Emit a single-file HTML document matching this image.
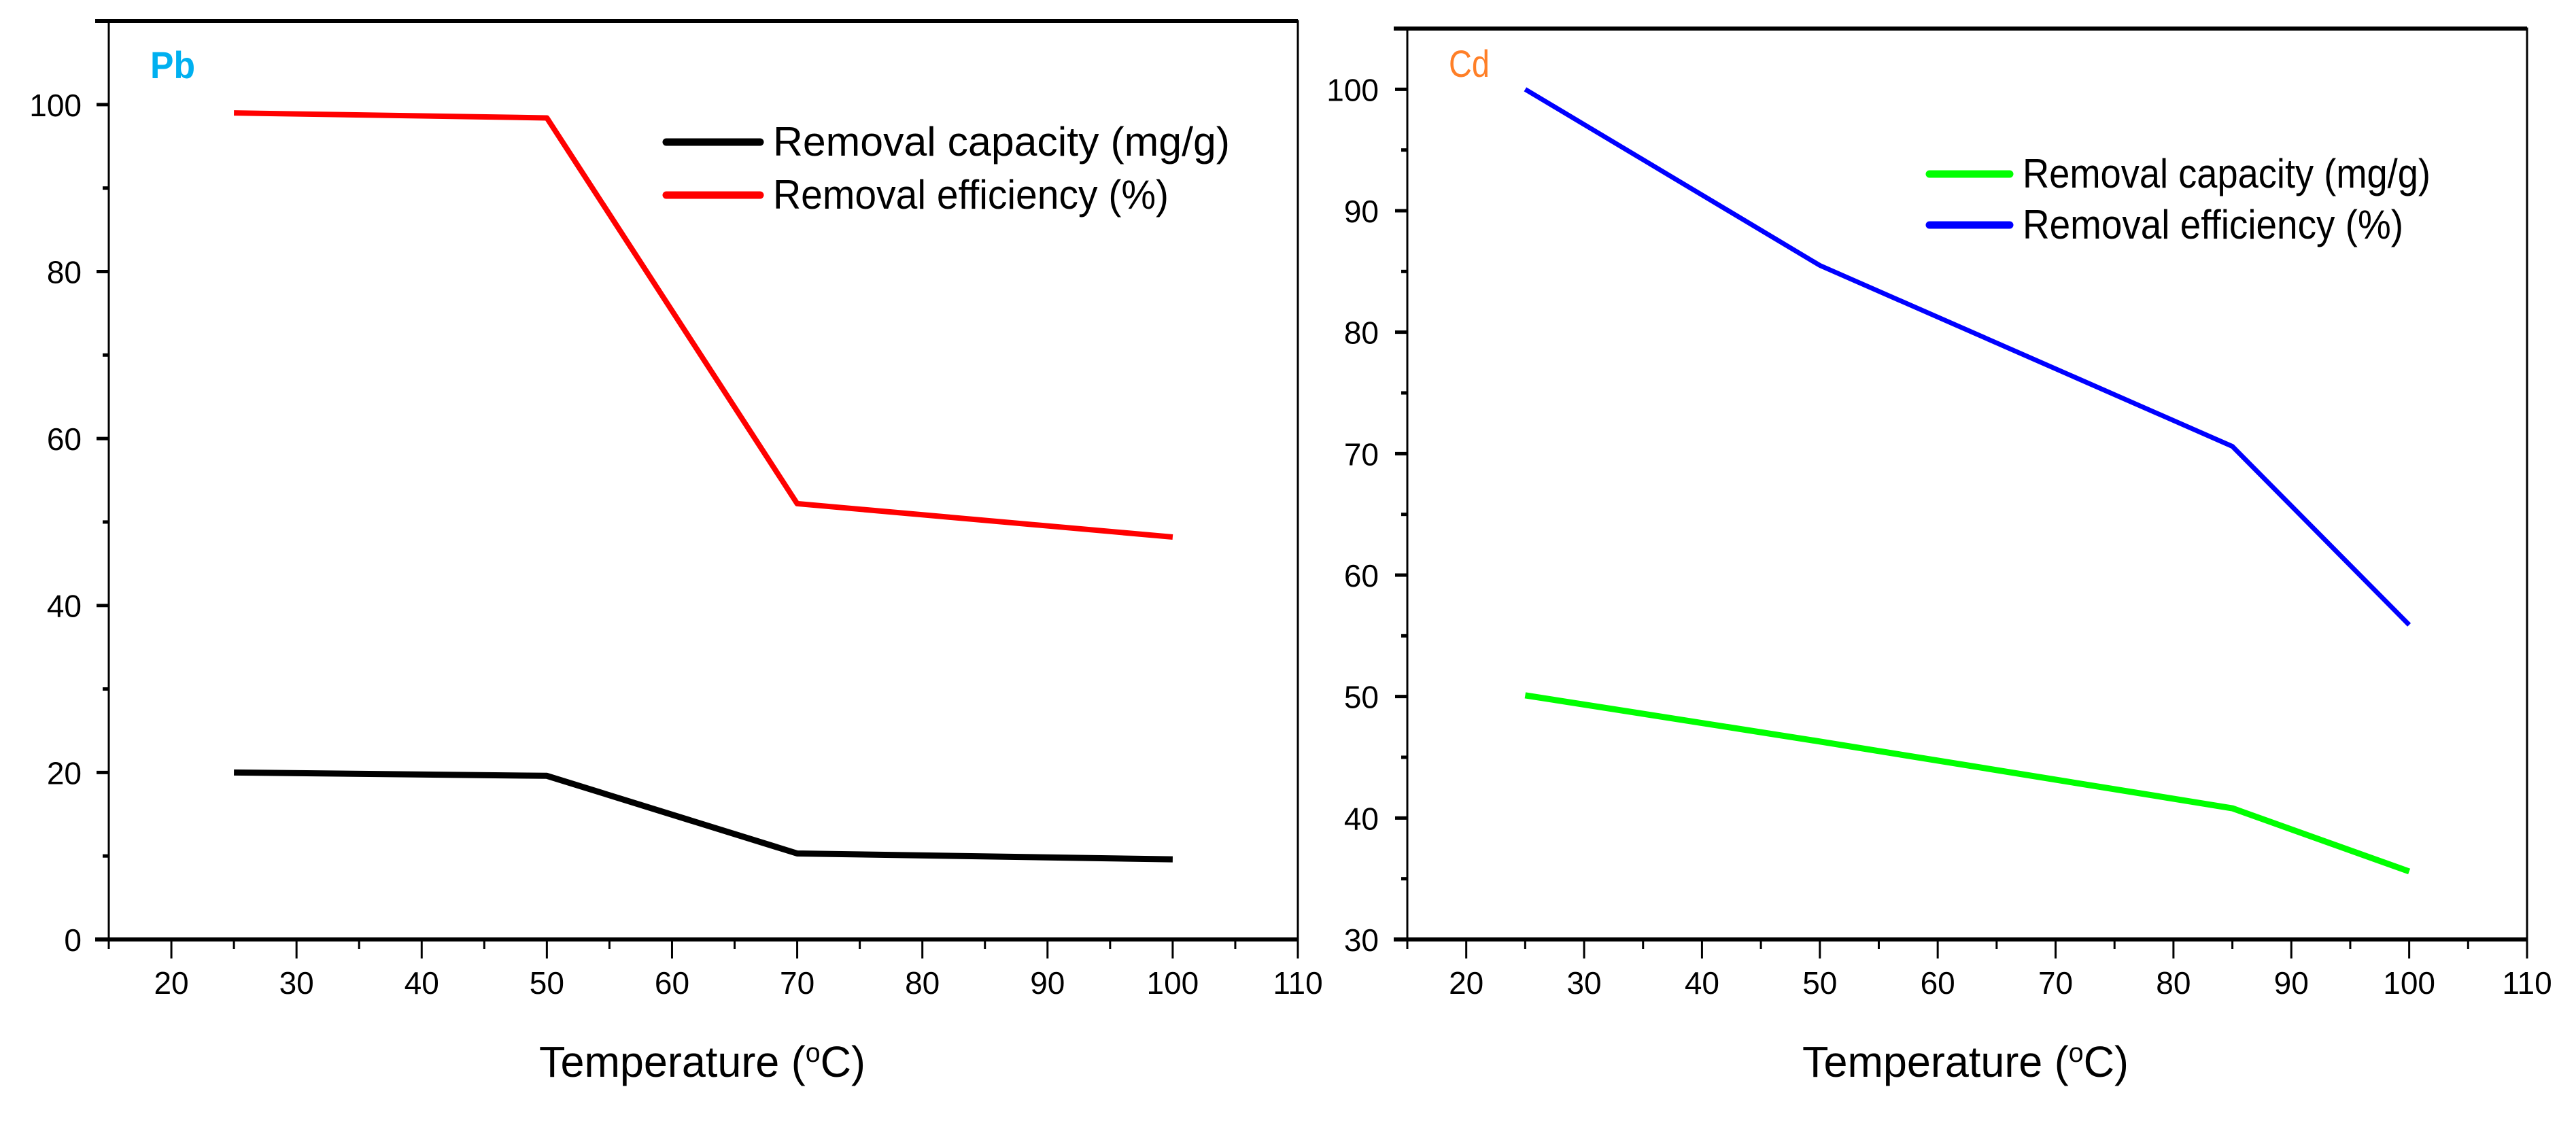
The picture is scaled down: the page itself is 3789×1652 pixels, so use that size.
<!DOCTYPE html>
<html><head><meta charset="utf-8"><style>
html,body{margin:0;padding:0;background:#fff;}
svg{display:block;font-family:"Liberation Sans",Arial,sans-serif;}
</style></head><body>
<svg id="fig" width="3789" height="1652" viewBox="0 0 3789 1652" xmlns="http://www.w3.org/2000/svg">
<g id="left"></g>
<g id="right"></g>
</svg>
<script>
const temps = [25, 50, 70, 100];
const pbEfficiency = [99.0, 98.4, 52.2, 48.2];
const pbCapacity = [20.0, 19.6, 10.3, 9.6];
const cdTemps = [25, 50, 85, 100];
const cdEfficiency = [100.0, 85.5, 70.6, 55.9];
const cdCapacity = [50.1, 46.3, 40.8, 35.6];
const xTicks = [20, 30, 40, 50, 60, 70, 80, 90, 100, 110];
const pbYTicks = [0, 20, 40, 60, 80, 100];
const cdYTicks = [30, 40, 50, 60, 70, 80, 90, 100];
const pbLegend = ["Removal capacity (mg/g)", "Removal efficiency (%)"];
const cdLegend = ["Removal capacity (mg/g)", "Removal efficiency (%)"];

const NS = "http://www.w3.org/2000/svg";
function mk(parent, tag, attrs, text) {
  const e = document.createElementNS(NS, tag);
  for (const k in attrs) e.setAttribute(k, attrs[k]);
  if (text !== undefined) e.textContent = text;
  parent.appendChild(e);
  return e;
}

function drawChart(g, cfg) {
  const sx = v => cfg.x0 + (v - 15) / 95 * (cfg.x1 - cfg.x0);
  const sy = v => cfg.yb - (v - cfg.ymin) / (cfg.ymax - cfg.ymin) * (cfg.yb - cfg.yt);
  // frame
  const fr = mk(g, "rect", {x: cfg.x0, y: cfg.yt, width: cfg.x1 - cfg.x0, height: cfg.yb - cfg.yt, fill: "none", stroke: "#000", "stroke-width": 3});
  
  
  const top = mk(g, "line", {x1: cfg.x0 - 20, y1: cfg.yt, x2: cfg.x1, y2: cfg.yt, stroke: "#000", "stroke-width": 6});
  
  
  const xa = mk(g, "line", {x1: cfg.x0 - 20, y1: cfg.yb, x2: cfg.x1, y2: cfg.yb, stroke: "#000", "stroke-width": 6});
  
  
  // x ticks
  for (let v = 15; v <= 110; v += 5) {
    const major = v % 10 === 0;
    const t = mk(g, "line", {x1: sx(v), y1: cfg.yb, x2: sx(v), y2: cfg.yb + (major ? 28 : 14), stroke: "#000", "stroke-width": 3});
    
    
  }
  xTicks.forEach(v => {
    const t = mk(g, "text", {x: sx(v), y: 1462, "font-size": 46, "text-anchor": "middle", fill: "#000"}, String(v));
    
    
  });
  // y ticks
  for (let v = cfg.ymin; v <= cfg.ymax; v += cfg.minor) {
    const major = cfg.yTicks.indexOf(v) >= 0;
    const t = mk(g, "line", {x1: cfg.x0 - (major ? 18 : 9), y1: sy(v), x2: cfg.x0, y2: sy(v), stroke: "#000", "stroke-width": 5});
    
    
  }
  cfg.yTicks.forEach(v => {
    const t = mk(g, "text", {x: cfg.ylabX, y: sy(v) + 17, "font-size": 46, "text-anchor": "end", fill: "#000"}, String(v));
    
    
  });
  // x title
  const xt = mk(g, "text", {x: cfg.titleX, y: 1584, "font-size": 64, "text-anchor": "middle", fill: "#000", textLength: 480, lengthAdjust: "spacingAndGlyphs"});
  
  
  xt.appendChild(document.createTextNode("Temperature ("));
  mk(xt, "tspan", {"font-size": 40, dy: -22}, "o");
  mk(xt, "tspan", {dy: 22}, "C)");
  // series
  cfg.series.forEach(s => {
    const pts = s.xs.map((x, i) => sx(x) + "," + sy(s.ys[i])).join(" ");
    const p = mk(g, "polyline", {points: pts, fill: "none", stroke: s.color, "stroke-width": s.w, "stroke-linejoin": "round"});
    
    
  });
  // legend
  cfg.legend.forEach((lab, i) => {
    const s = cfg.series[i];
    const ly = cfg.legY[i];
    const l = mk(g, "line", {x1: cfg.legX1, y1: ly, x2: cfg.legX2, y2: ly, stroke: s.color, "stroke-width": 11, "stroke-linecap": "round"});
    
    
    const t = mk(g, "text", {x: cfg.legTX, y: ly + 20, "font-size": 60, fill: "#000", textLength: cfg.legW[i], lengthAdjust: "spacingAndGlyphs"}, lab);
    
    
  });
  // panel label
  const pl = mk(g, "text", {x: cfg.lblX, y: cfg.lblY, "font-size": 56, "font-weight": cfg.bold ? "bold" : "normal", fill: cfg.lblColor, textLength: cfg.lblW, lengthAdjust: "spacingAndGlyphs"}, cfg.lbl);
  
  
}

drawChart(document.getElementById("left"), {
  x0: 160, x1: 1909, yt: 31, yb: 1382, ymin: 0, ymax: 110, minor: 10, yTicks: pbYTicks, ylabX: 120,
  titleX: 1033,
  series: [
    {xs: temps, ys: pbCapacity, color: "#000", w: 9, name: "pb-capacity-line"},
    {xs: temps, ys: pbEfficiency, color: "#ff0000", w: 8, name: "pb-efficiency-line"}
  ],
  legend: pbLegend, legY: [209, 287], legX1: 980, legX2: 1118, legTX: 1137, legW: [672, 582],
  lbl: "Pb", lblX: 221, lblY: 115, lblColor: "#00b0f0", lblW: 66, bold: true
});
drawChart(document.getElementById("right"), {
  x0: 2070, x1: 3717, yt: 42, yb: 1382, ymin: 30, ymax: 105, minor: 5, yTicks: cdYTicks, ylabX: 2028,
  titleX: 2891,
  series: [
    {xs: cdTemps, ys: cdCapacity, color: "#00ff00", w: 9, name: "cd-capacity-line"},
    {xs: cdTemps, ys: cdEfficiency, color: "#0000ff", w: 7, name: "cd-efficiency-line"}
  ],
  legend: cdLegend, legY: [256, 331], legX1: 2838, legX2: 2956, legTX: 2975, legW: [600, 560],
  lbl: "Cd", lblX: 2131, lblY: 113, lblColor: "#ff7f27", lblW: 60, bold: false
});
</script>
</body></html>
